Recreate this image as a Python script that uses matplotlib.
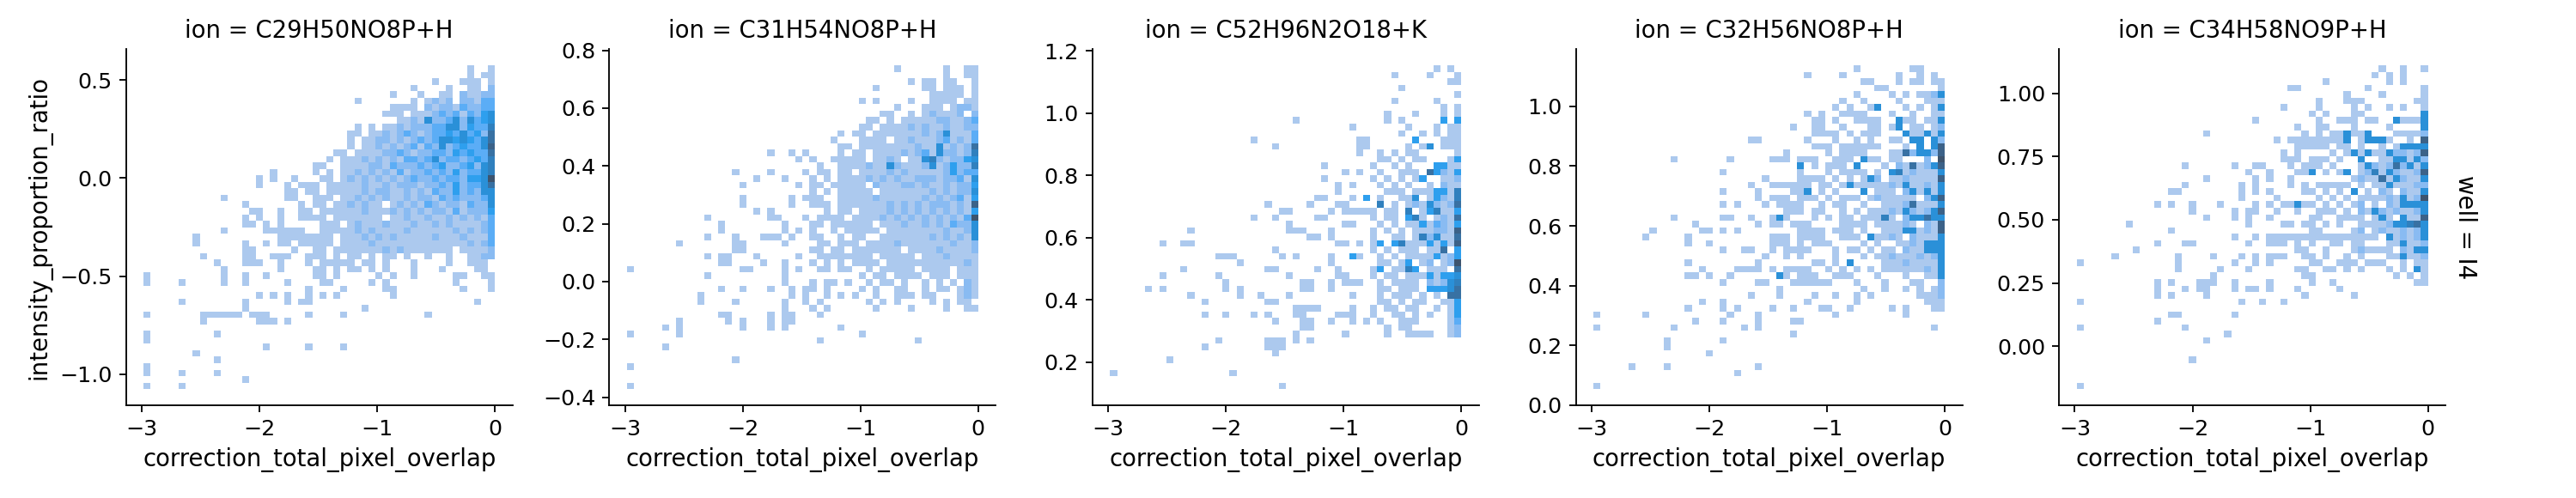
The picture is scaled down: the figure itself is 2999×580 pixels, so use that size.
import numpy as np
import matplotlib
matplotlib.use("Agg")
import matplotlib.pyplot as plt
import matplotlib.colors as mcolors
from matplotlib.ticker import MultipleLocator
from seaborn.external import husl

# facet values
ions = ["C29H50NO8P+H", "C31H54NO8P+H", "C52H96N2O18+K", "C32H56NO8P+H", "C34H58NO9P+H"]
well = "I4"

# data extent of the 2d histograms (x shared, y per ion)
x_range = (-2.985, 0.0)
y_ranges = [(-1.076, 0.574), (-0.372, 0.748), (0.114, 1.153), (0.054, 1.137), (-0.170, 1.111)]
y_steps = [0.5, 0.2, 0.2, 0.2, 0.25]

# bin counts: one string per y bin (top row = highest y),
# one char per x bin (50 bins), '.' = empty
counts_c29 = [
    ".......... .......... .......... .......... ......1..1",
    ".......... .......... .......... .......... ......1.11",
    ".......... .......... .......... .......... .1...111.1",
    ".......... .......... .......... ........1. ...1..11.2",
    ".......... .......... .......... .....1...1 ..11.21122",
    ".......... .......... .......... 1.......1. 1212.22133",
    ".......... .......... .......... .....1111. 2122132233",
    ".......... .......... .......... ....111.11 1232313245",
    ".......... .......... .......... ......1121 5223525345",
    ".......... .......... .......... 1.1.112122 2335524336",
    ".......... .......... .........1 1.11212321 2334353427",
    ".......... .......... .........1 .112212123 2355454357",
    ".......... .......... .........1 .112121231 3252343358",
    ".......... .......... .......11. 1111223212 2332434337",
    ".......... .......... ......1.11 1212121332 3523323436",
    ".......... .......... ....11..11 1122132223 2342234256",
    ".......... ........1. ....1.1.11 2121213122 3232423356",
    ".......... ......1.1. .1...11.12 1212121232 2323324459",
    ".......... ......1... 1.111.1111 1211212221 2232423357",
    ".......... .......... 11.11.1111 1212211212 1322423255",
    ".......... .1........ 11..111.11 2121211212 2132322235",
    ".......... ....1..... ..1.11.112 1211.12121 3212213225",
    ".......... .....11..1 ..11.11111 1211121212 1221312224",
    ".......... ....1.1..1 ..1111.111 1111.11211 2112121213",
    ".......... ....11.1.1 .....111.1 2111211121 1212111123",
    ".......... .1.....111 111..11111 2121111211 1111212123",
    ".......1.. .........1 1111111.11 1212121111 1211121113",
    ".......1.. ....1..1.1 1.11111.11 1121111111 1111112123",
    ".......... ....11.... .1..11.111 1111212111 1111.11112",
    "........1. ....11..11 1..111.1.1 1.1.11.1.. 1..1..1122",
    ".......... 1...111..1 ...1.11111 .11.1...1. ...1..111.",
    ".......... .1.......1 ....11.1.1 1.1.1...1. ..1....11.",
    "1......... .1..1..1.. ....11.1.. ...1.1..1. ....11..11",
    "1....1.... .1..1..... 1....11... ..1.1..... ....1....1",
    ".......... .......... ...1....1. ....11.... .....1...1",
    ".......... ......1.1. 1..1.1.1.. .....1.... ..........",
    ".....1.... ....1..... 1.11...... .......... .......1..",
    ".......... ....1..... .......... .1........ ..........",
    "1.......11 1111.111.. ...1....1. .......... 1.........",
    "........1. ......111. 1......... .......... ..........",
    ".......... .......... .......... .......... ..........",
    "1......... 1......... .......... .......... ..........",
    "1......... .......... .......... .......... ..........",
    ".......... .......1.. ...1....1. .......... ..........",
    ".......1.. .......... .......... .......... ..........",
    ".......... 1......... .......... .......... ..........",
    "1......... .......... .......... .......... ..........",
    "1....1.... 1......... .......... .......... ..........",
    ".......... ....1..... .......... .......... ..........",
    "1....1.... .......... .......... .......... ..........",
]

counts_c31 = [
    ".......... .......... .......... ........1. .....1..11",
    ".......... .......... .......... .......... .....1..11",
    ".......... .......... .......... .......... 1.11.11..1",
    ".......... .......... .......... .....1.... ..11.111.1",
    ".......... .......... .......... .......... ...11111.1",
    ".......... .......... .......... ...1.1.... 1..1111.11",
    ".......... .......... .......... ........1. ..111.1221",
    ".......... .......... .......... ......11.. 1.121112.2",
    ".......... .......... .......... ....11.1.1 1111221123",
    ".......... .......... .......... ...11.1111 2121121122",
    ".......... .......... .......... 1.11.11111 1121251113",
    ".......... .......... .........1 ...1111.11 2111231213",
    ".......... .......... .......... 11.1111111 1211512127",
    ".......... .......... 1..1.1.... 1.11.11112 1231522126",
    ".......... .......... ....1.1..1 1111.1121. 1156212245",
    ".......... .......... .......1.. 1111211521 1125124226",
    ".......... .....1.... 1....1.11. 11.1111212 1111124233",
    ".......... ........1. ..1...1.1. 1111212121 1222122315",
    ".......... ......1... ....1.11.1 1111.21112 2121121224",
    ".......... .......... ......1.1. 11111.1111 1112121225",
    ".......... ......1... ...1.111.. 1111121111 1121212314",
    ".......... ......1... ...1..111. 1111111212 1212221218",
    ".......... ........1. 1.......1. 11.1111212 1212121214",
    ".......... .1........ 11...1.111 1.11112121 2121212139",
    ".......... ...1...... ..1...11.1 11111.1112 1121213225",
    ".......... ...1...... ..1.1.1..1 .11111.111 1111121125",
    ".......... .1...1...1 11.1..11.. 1.11..1111 1112121215",
    ".......1.. .....11... ..1....11. 111.111121 1111112112",
    ".......... .....11... ......11.1 1.1111111. 1111211112",
    ".......... .1.11...1. ....1..111 11111.1111 1.11121111",
    ".......... ...11....1 ..1...1.1. 1.1111.111 1111111121",
    "1......... ......11.. ..1.1..11. 11..1.1111 1.1111.111",
    ".......... .1........ ..1....... ...1.11.11 11.111.111",
    ".......... .......... ..1...1.11 .1..1.11.1 ..1.1.1.21",
    ".......... ...1..1... 1..1.11.1. ...1.1..11 ..1.11.121",
    ".......... 1......... ...1.1..1. 1.1..1..11 1.11...121",
    ".......... 1....1.... ..1..1.1.. ....1.1.1. ...1.1.11.",
    ".......... .......... ..1...1.1. .....1.... 1....1..11",
    ".......... ...11..... 1.11...1.. .......... ..........",
    ".......1.. ....1.1... 1.11...... .......... ..........",
    ".....1.1.. ......1... 1.1....... 1......... ..........",
    "1......1.. .......... .......... ...1...... ..........",
    ".......... .......... .......1.. .......... .1........",
    ".....1.... .......... .......... .......... ..........",
    ".......... .......... .......... .......... ..........",
    ".......... .....1.... .......... .......... ..........",
    "1......... .......... .......... .......... ..........",
    ".......... .......... .......... .......... ..........",
    ".......... .......... .......... .......... ..........",
    "1......... .......... .......... .......... ..........",
]

counts_c52 = [
    ".......... .......... .......... .......... ......1.1.",
    ".......... .......... .......... .......... 1....1...1",
    ".......... .......... .......... .......... ........11",
    ".......... .......... .......... .......... .1........",
    ".......... .......... .......... .......... .........1",
    ".......... .......... .......... .......... 1.....1...",
    ".......... .......... .......... .......... .......1.1",
    ".......... .......... .......... .........1 ...1...1.1",
    ".......... .......... ......1... .........1 .1.....4.4",
    ".......... .......... .......... ....1..... ..1...1.11",
    ".......... .......... .......... .......... .1..1.1.11",
    ".......... .......... 1......... .....11... ...4...111",
    ".......... .......... ...1...... .....11... ..1.15.111",
    ".......... .......... .......... .....1..1. 1.11.....1",
    ".......... .......... .......... ........11 .1.11...14",
    ".......... .......... .......... 1......1.. 1.1...4411",
    ".......... .......... .......... ...1.1..1. .111.74214",
    ".......... .......... .......... 1......1.1 .1.14..112",
    ".......... .......... .......... ..1.1...1. 1.1..1.211",
    ".......... .......... .......... ..1......1 11.1114416",
    ".......... .......... .........1 1...1.4.1. .115.14216",
    ".......... .......... ..1.....1. ..11....6. 1.12152127",
    ".......... .......... ....11.... .1.11111.1 1.6.146114",
    ".......... .......... 1..1.....1 1......1.1 1.461.1217",
    ".......... .......... .....1.... ...11...1. 1.11413214",
    ".......... .1........ .....111.. .1.....1.1 .1.1112218",
    ".......... .......... ........11 .1.....1.. 11.1625117",
    ".......1.. 11........ .......... ..11.1.14. 4611141418",
    ".......... .......... ...1...... .......1.1 .111.117.4",
    ".......... .....111.. ....1.1... .1..41..1. 1.11114124",
    ".......... ........1. .......... .1......11 .14.12.129",
    ".......... 1......... ..11.....1 ..1....14. 1164.111.7",
    ".......1.. .....1.... .....1.... ..11...1.1 1.11141445",
    ".......... ......1... .......11. .1.111..1. 1111.21256",
    ".....1.1.. ......1.1. .......11. .1......11 .111.44457",
    ".......... .1......1. .1...1.... ....1...1. 111.1.1.77",
    ".......... ...1...... ..11...... ........11 .1.11..114",
    ".......... .......... ......1111 ....1..1.1 1.11..1.14",
    ".......... ...1..1... 1.1...11.. ..111..1.. 11.1.1..14",
    ".......... .......... ...1...11. .1..1.1.1. .111....13",
    ".......... .......... .......11. .........1 .11.....12",
    ".......... .......... ......1... ...1.....1 ..1111..12",
    ".......... .....1.... ..111.1.1. .......... ..........",
    ".......... ...1...... ..111..... .......... ..........",
    ".......... .......... ...1...... .......... ..........",
    "........1. .......... .......... .......... ..........",
    ".......... .......... .......... .......... ..........",
    "1......... .......1.. .......... .......... ..........",
    ".......... .......... .......... .......... ..........",
    ".......... .......... ....1..... .......... ..........",
]

counts_c32 = [
    ".......... .......... .......... .......1.. .....11...",
    ".......... .......... .......... 1....1.... ...1..1.1.",
    ".......... .......... .......... ........11 ...1.11.11",
    ".......... .......... .......... .......... 11.......1",
    ".......... .......... .......... .......1.. ..1.1.1125",
    ".......... .......... .......... .....1..1. ...1...111",
    ".......... .......... .......... ....1.1..1 5...1.1.15",
    ".......... .......... .......... 1.1..1111. ..1..1..11",
    ".......... .......... .......... .11.1..111 1..511.115",
    ".......... .......... ........1. .11..1...1 1.15.11.12",
    ".......... .......... .......... .1111.1.11 1...511515",
    ".......... .......... ..11...... 1...1..1.1 ..11.55.52",
    ".......... .......... .......... .111.11111 1...1.5.58",
    ".......... .......... .......1.. ...1.1111. ..11725528",
    ".......... .1.......1 .....111.1 11..111.51 1.11...2.9",
    ".......... .......... .........5 .1.111.5.. .1.2171258",
    ".......... ........1. .........1 ...1.1111. 1.56121115",
    ".......... .......... ....1....1 111.1.1.15 2.11211118",
    ".......... .......... ..1..11111 1.11.15111 1121511215",
    ".......... ........1. ...1....11 5.1.1...5. 111.251515",
    ".......... .......... ...1.111.1 11.1.111.1 211111.258",
    ".......... ........1. 1...1.1111 ..1.11..1. .111271115",
    ".......... .......... .......111 .11..1.1.1 1121521258",
    ".......... .1......11 ..1..151.. .1.1.11.11 161.255755",
    ".......... ....1..... ...1.11.11 1....1111. 111121.218",
    "........1. .....11.1. 1........1 111.111.1. .111551218",
    ".......1.. ...1...... .....111.1 111..111.5 1121.21115",
    ".......... ...1..1... .....111.1 .111....1. 1..1121555",
    ".......... ........1. .11..1.111 1...1.11.1 .11.211555",
    ".......... .......... ....1..1.1 ....1...1. 1121112125",
    ".......... ...1...... ...1...... .11.1.5... .111211115",
    ".......... .....1.... 1111.1.111 1..1.1.1.1 .111111215",
    ".......... ...11.1..1 ......51.1 11..111... 1...1..115",
    ".......... ........1. ...11...11 1111...1.. .1...11..2",
    ".......... .......... ......1... ........1. .1..1.1.12",
    ".......... .......... ..1...1... .1..1..1.1 ......1112",
    ".......... .....1..1. .......... 1......1.. .......111",
    ".......... ...1....1. 1....1..1. ..11..1... ..1.1...11",
    "1......1.. .........1 ...1...... ....1..... ....1.....",
    ".......... ....1...1. ...1....11 .......... ..........",
    "1......... .1........ .1.1...... .......... ........1.",
    ".......... .......... ........1. .......... ..........",
    ".......... 1.......1. .......... .......... ..........",
    ".......... 1......... .......... .......... ..........",
    ".......... ......1... .......... .......... ..........",
    ".......... .......... .......... .......... ..........",
    ".....1.... 1......... ...1...... .......... ..........",
    ".......... .......... 1......... .......... ..........",
    ".......... .......... .......... .......... ..........",
    "1......... .......... .......... .......... ..........",
]

counts_c34 = [
    ".......... .......... .......... .......... ...1..1..1",
    ".......... .......... .......... .......... ..1.1.1...",
    ".......... .......... .......... .....1.... ....1.1...",
    ".......... .......... .......... 11........ .1.......1",
    ".......... .......... .......... ........1. ...1.....1",
    ".......... .......... .......... ....1...11 1.......11",
    ".......... .......... .........1 ....1....1 .1..1.1..1",
    ".......... .......... .......... ...1.1...1 1........5",
    ".......... .......... .....1.... ....1..111 .11..51115",
    ".......... .......... .......... .1..11...1 ....1....5",
    ".......... ........1. .......... ..1.1.1151 15...11112",
    ".......... .......... ........1. 111111115. 15551..1.8",
    ".......... .......... .......... .11111.11. 1..1.15555",
    ".......... .......... .........1 .1....1.15 1511522128",
    ".......... .......... .........1 11.111.1.. 5..1155152",
    ".......... .....1.... ..1..11... 1.111.1... 1521272515",
    ".......... .......... ....1..1.. .115.1.15. 1261521128",
    ".......... ........1. .....1.1.. 1........1 2117152115",
    ".......... .....1.... ...1.1.... 1.1.11111. 1.11511122",
    ".......... ...11..... ...1.1.1.. ..11.1.1.5 .1.21.2115",
    ".......... .......... ...1....1. ....1.1.1. 1111215129",
    ".......... .1.1..1... 1....1.1.1 1511.1.1.1 2.1.215555",
    ".......... ......1... ..1.11..1. .1..111.1. 2152121125",
    ".......... ........1. ..1.1..1.. ...11..111 1.151.5118",
    ".......1.. .......... ....1....1 1.11.1.1.. 1111255675",
    ".......... ...1...... .......... ...11....1 2.12112125",
    ".......... .......... ..1..1.111 1111111111 111.512125",
    ".......... .1...11... ....1..111 .1.1..11.1 1...115112",
    "........1. .......... .......... .11..1...1 21111.2155",
    ".....1.... ....1....1 ...1.1.111 ..11.1..1. 1...115112",
    "1......... ....1..... ..1..1.1.. ...11..111 .111..1.11",
    ".......... ....1..... 1...1..... .11..11.1. 1...1.1.51",
    ".......... .........1 .......... ..11...... .....1.1.1",
    ".......... .1.1...111 ..1....1.. ...1..1... ........11",
    ".......... .1...1.11. ..1.11.1.. .1.....1.. ..........",
    ".......... .1.1....1. .......... ..1......1 ..........",
    "1......... .......... ...1..1..1 .......... ..........",
    ".......... .......... .......... .......... ..........",
    ".......... ...11..... ..1....... .......... ..........",
    ".......... .1........ .......... .......... ..........",
    "1......... .....1.... .......... .......... ..........",
    ".......... .......... .1........ .......... ..........",
    ".......... ........1. .......... .......... ..........",
    ".......... .......... .......... .......... ..........",
    ".......... .......... .......... .......... ..........",
    ".......... ......1... .......... .......... ..........",
    ".......... .......... .......... .......... ..........",
    ".......... .......... .......... .......... ..........",
    ".......... .......... .......... .......... ..........",
    "1......... .......... .......... .......... ..........",
]

all_counts = [counts_c29, counts_c31, counts_c52, counts_c32, counts_c34]
n_bins = 50


def to_array(rows):
    out = []
    for row in rows:
        row = row.replace(" ", "").ljust(n_bins, ".")[:n_bins]
        out.append([0 if ch == "." else int(ch) for ch in row])
    # first string is the top bin -> flip so row 0 is the lowest y bin
    return np.array(out)[::-1]


def cmap_from_color(color):
    # same ramp seaborn's histplot builds for a single-colour 2d histogram
    r, g, b, _ = mcolors.to_rgba(color)
    h, s, _ = husl.rgb_to_husl(r, g, b)
    xx = np.linspace(-1, 1, int(1.15 * 256))[:256]
    ramp = np.zeros((256, 3))
    ramp[:, 0] = h
    ramp[:, 1] = s * np.cos(xx)
    ramp[:, 2] = np.linspace(35, 80, 256)
    colors = np.clip([husl.husl_to_rgb(*hsl) for hsl in ramp], 0, 1)
    return mcolors.ListedColormap(colors[::-1])


cmap = cmap_from_color("#1f77b4")

W, H = 2999, 580
dpi = 165
fig = plt.figure(figsize=(W / dpi, H / dpi), dpi=dpi)

ax_left = [146.7, 709.3, 1271.9, 1834.5, 2397.1]
ax_w, ax_top, ax_bottom = 450, 57.3, 472

axes = []
for i, ion in enumerate(ions):
    ax = fig.add_axes([ax_left[i] / W, 1 - ax_bottom / H, ax_w / W, (ax_bottom - ax_top) / H])
    counts = to_array(all_counts[i])
    y_lo, y_hi = y_ranges[i]
    x_edges = np.linspace(x_range[0], x_range[1], n_bins + 1)
    y_edges = np.linspace(y_lo, y_hi, n_bins + 1)
    heights = np.ma.masked_less_equal(counts, 0)
    ax.pcolormesh(x_edges, y_edges, heights, cmap=cmap, vmin=1, vmax=heights.max())

    mx = 0.05 * (x_range[1] - x_range[0])
    my = 0.05 * (y_hi - y_lo)
    ax.set_xlim(x_range[0] - mx, x_range[1] + mx)
    ax.set_ylim(y_lo - my, y_hi + my)
    ax.xaxis.set_major_locator(MultipleLocator(1))
    ax.yaxis.set_major_locator(MultipleLocator(y_steps[i]))

    ax.spines[["top", "right"]].set_visible(False)
    ax.tick_params(labelsize=11)
    ax.set_title(f"ion = {ion}", fontsize=12)
    ax.set_xlabel("correction_total_pixel_overlap", fontsize=12)
    axes.append(ax)

axes[0].set_ylabel("intensity_proportion_ratio", fontsize=12)
axes[-1].annotate(f"well = {well}", xy=(1.02, 0.5), xycoords="axes fraction",
                  rotation=270, ha="left", va="center", fontsize=12)

fig.savefig("out.png", dpi=dpi)
